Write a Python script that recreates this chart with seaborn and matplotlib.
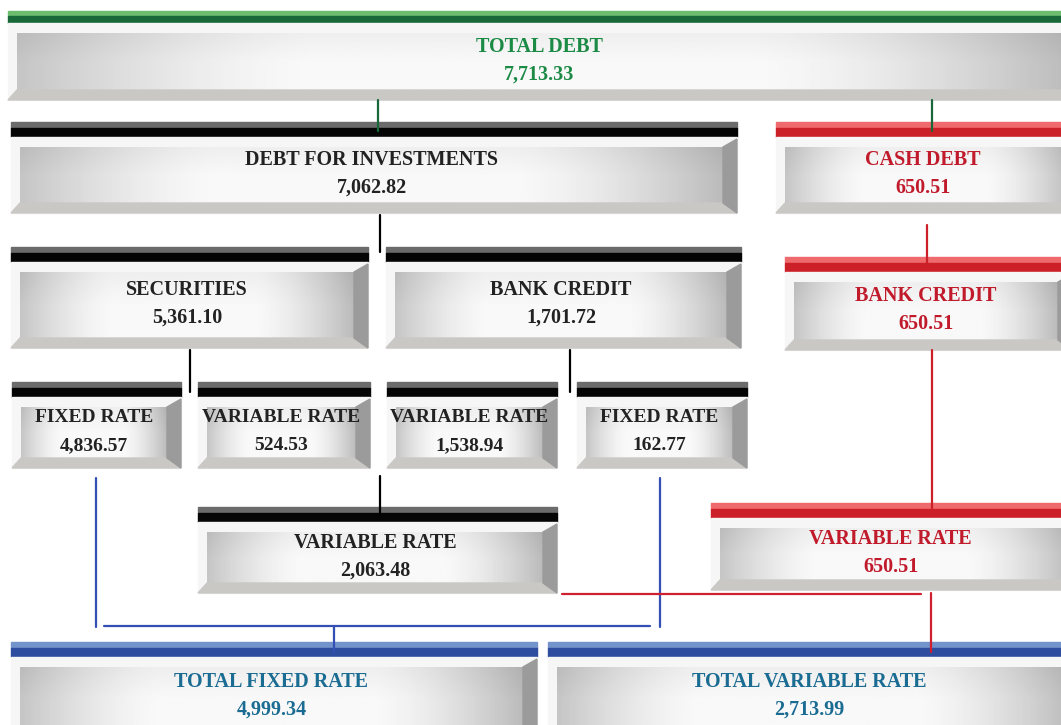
import numpy as np
import matplotlib.pyplot as plt
from matplotlib.patches import Rectangle, Polygon
import seaborn as sns

# node labels and amounts (in the order they are laid out below)
labels = ["TOTAL DEBT", "DEBT FOR INVESTMENTS", "CASH DEBT",
          "SECURITIES", "BANK CREDIT", "BANK CREDIT",
          "FIXED RATE", "VARIABLE RATE", "VARIABLE RATE", "FIXED RATE",
          "VARIABLE RATE", "VARIABLE RATE",
          "TOTAL FIXED RATE", "TOTAL VARIABLE RATE"]
values = [7713.33, 7062.82, 650.51,
          5361.10, 1701.72, 650.51,
          4836.57, 524.53, 1538.94, 162.77,
          2063.48, 650.51,
          4999.34, 2713.99]
schemes = ["green", "gray", "red",
           "gray", "gray", "red",
           "gray", "gray", "gray", "gray",
           "gray", "red",
           "blue", "blue"]

# box layout in pixel units: x0, x1, bar top, body top, body bottom
layout = [(8, 1085, 11, 23, 100), (11, 737, 122, 137, 213), (776, 1085, 122, 137, 213),
          (11, 368, 247, 262, 348), (386, 741, 247, 262, 348), (785, 1072, 257, 272, 350),
          (12, 181, 382, 397, 468), (198, 370, 382, 397, 468), (387, 557, 382, 397, 468),
          (577, 747, 382, 397, 468),
          (198, 557, 507, 522, 593), (711, 1085, 503, 518, 590),
          (11, 537, 642, 657, 740), (548, 1085, 642, 657, 740)]

colors = {
    "green": ("#6cbd6e", "#18683a", "#1b8a45"),
    "gray": ("#6b6b6b", "#050505", "#222222"),
    "red": ("#ef6a6c", "#cc2028", "#c01a2b"),
    "blue": ("#7393cb", "#2f4d9e", "#1b6c93"),
}

# connector segments: (x0, y0, x1, y1, color)
links = [(378, 100, 378, 131, "#18683a"), (932, 100, 932, 131, "#18683a"),
         (380, 215, 380, 252, "black"), (927, 225, 927, 265, "#cc2028"),
         (190, 350, 190, 392, "black"), (570, 350, 570, 392, "black"),
         (932, 350, 932, 510, "#cc2028"), (380, 476, 380, 514, "black"),
         (96, 478, 96, 627, "#3550b4"), (660, 478, 660, 627, "#3550b4"),
         (104, 626, 650, 626, "#3550b4"), (334, 626, 334, 652, "#3550b4"),
         (562, 594, 921, 594, "#d02030"), (931, 593, 931, 652, "#d02030")]

sns.set_theme(style="white")
plt.rcParams['font.family'] = ['Liberation Serif', 'DejaVu Serif']

fig = plt.figure(figsize=(10.61, 7.25), dpi=100)
ax = fig.add_axes([0, 0, 1, 1])

# shading for the inner face of each box
gx = np.linspace(0, 1, 200)
gy = np.linspace(0, 1, 40)
X, Y = np.meshgrid(gx, gy)
shade = (0.975 - 0.20 * np.clip(1 - X / 0.28, 0, None) ** 1.5
         - 0.24 * np.clip((X - 0.7) / 0.3, 0, None) ** 1.5
         - 0.04 * np.clip(1 - Y / 0.5, 0, None))

for lab, val, sch, (x0, x1, yb, yt, ybot) in zip(labels, values, schemes, layout):
    light, dark, txt = colors[sch]
    split = yb + (yt - yb) * 0.42
    ax.add_patch(Rectangle((x0, yb), x1 - x0, split - yb, color=light, zorder=1))
    ax.add_patch(Rectangle((x0, split), x1 - x0, yt - split, color=dark, zorder=1))
    ax.add_patch(Rectangle((x0, yt), x1 - x0, ybot - yt, color="#f6f6f6", zorder=1))
    fx0, fx1, fy0, fy1 = x0 + 9, x1 - 14, yt + 10, ybot - 10
    ax.imshow(shade, cmap="gray", vmin=0, vmax=1, extent=(fx0, fx1, fy1, fy0),
              aspect="auto", interpolation="bilinear", zorder=2)
    ax.add_patch(Polygon([(x0, ybot), (fx0, fy1), (fx1, fy1), (x1, ybot)],
                         color="#cac8c5", zorder=3))
    ax.add_patch(Polygon([(fx1, fy0), (x1, yt + 2), (x1, ybot), (fx1, fy1)],
                         color="#9b9b9b", zorder=3))
    # center text on the visible part of the face
    cx = (fx0 + min(x1, 1075) - 14) / 2
    mid = (yt + ybot) / 2 if ybot < 735 else yt + 40
    small = x1 - x0 < 200
    ax.text(cx, mid - 15, lab, ha="center", va="center", fontsize=14 if small else 14.5,
            fontweight="bold", color=txt, zorder=5)
    ax.text(cx, mid + 13, f"{val:,.2f}", ha="center", va="center",
            fontsize=14 if small else 14.5, fontweight="bold", color=txt, zorder=5)

for x0, y0, x1, y1, c in links:
    ax.plot([x0, x1], [y0, y1], color=c, lw=1.6, zorder=4)

ax.set_xlim(0, 1061)
ax.set_ylim(725, 0)
ax.axis("off")
fig.savefig("out.png", dpi=100)
